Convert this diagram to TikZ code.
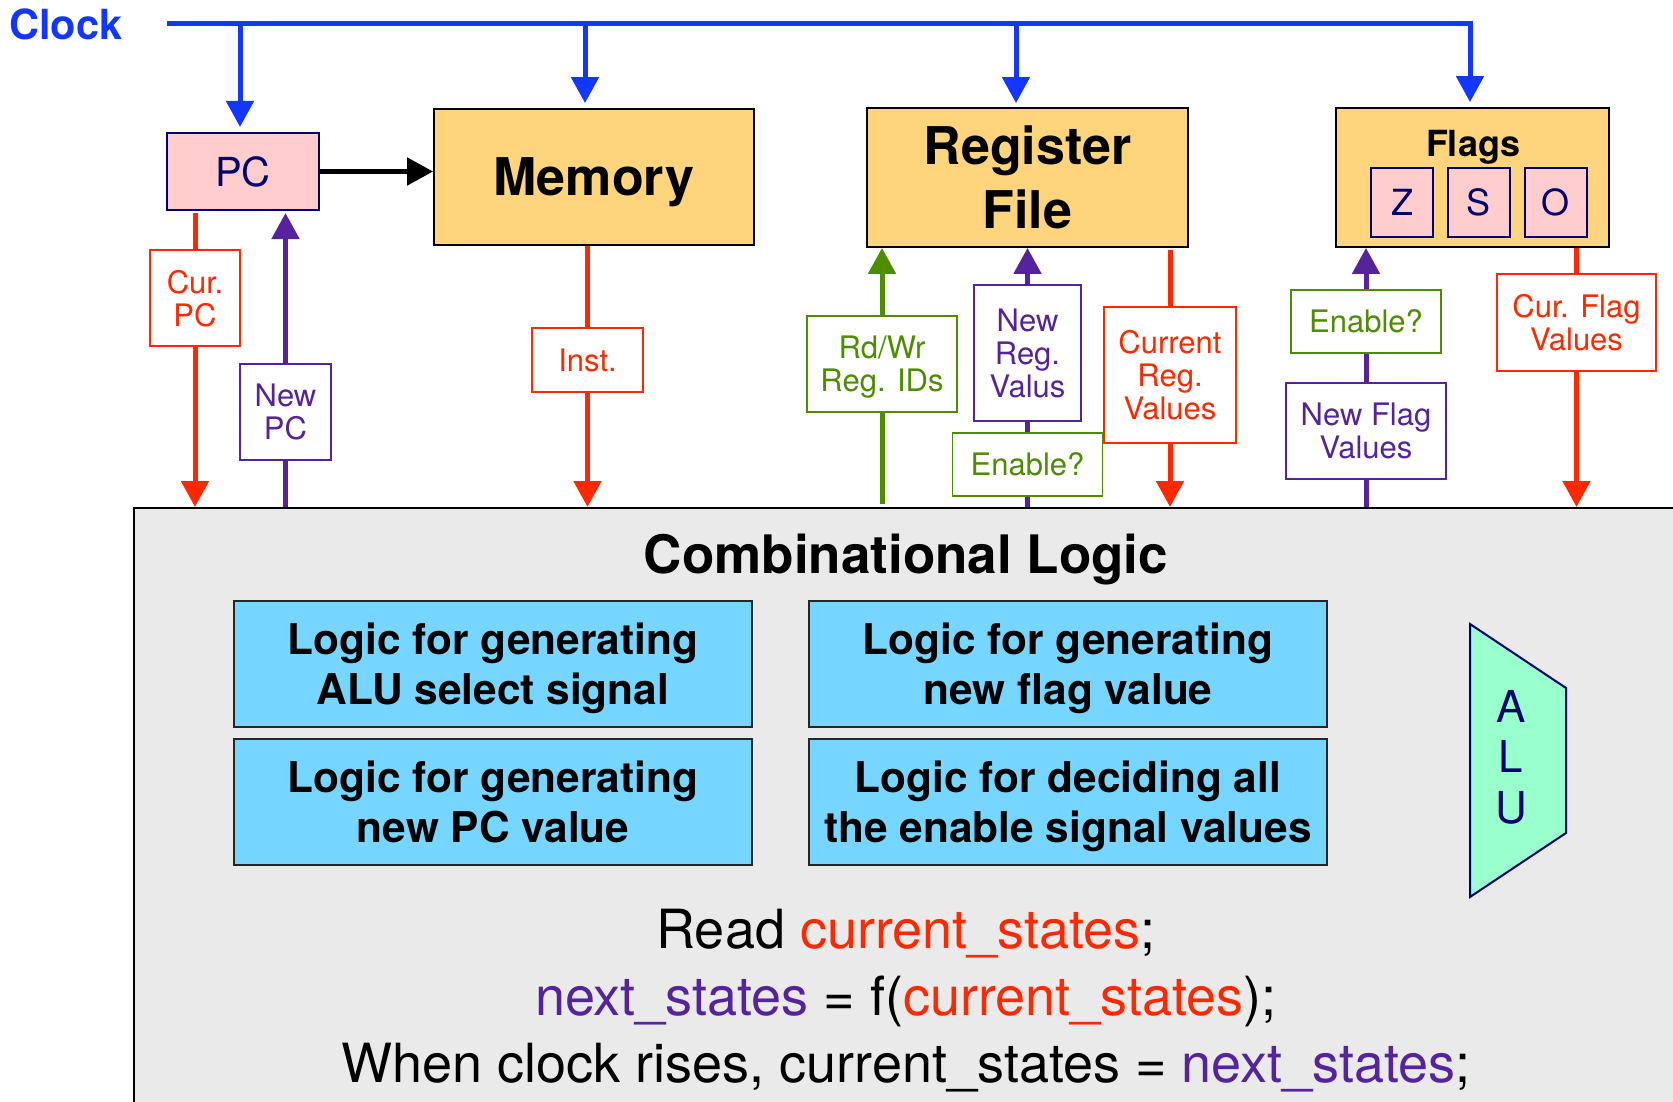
\documentclass[tikz,border=0pt]{standalone}
\usepackage{fontspec}
\setmainfont{TeX Gyre Heros}
\usepackage{tikz}
\usetikzlibrary{arrows.meta, positioning}
\definecolor{clkblue}{RGB}{20,55,255}
\definecolor{curred}{RGB}{255,40,0}
\definecolor{nextpurple}{RGB}{85,35,155}
\definecolor{enablegreen}{RGB}{78,140,0}
\definecolor{navy}{RGB}{0,0,110}
\definecolor{pcpink}{RGB}{255,205,205}
\definecolor{unitorange}{RGB}{254,212,124}
\definecolor{logicblue}{RGB}{118,214,255}
\definecolor{alumint}{RGB}{153,255,204}
\definecolor{combgray}{RGB}{234,234,234}
\newcommand{\pxfont}[2]{\fontsize{#1}{#2}\selectfont}

\begin{document}
\begin{tikzpicture}[x=1pt, y=-1pt,
    every node/.style={inner sep=0pt},
    statebox/.style={draw=navy, fill=pcpink, line width=2pt, text=navy},
    unitbox/.style={draw=black, fill=unitorange, line width=1.8pt, align=center,
                    text depth=0pt, font=\pxfont{52}{64}\bfseries},
    sigbox/.style={draw=#1, fill=white, text=#1, line width=1.6pt, align=center,
                   text depth=0pt, font=\pxfont{31}{33}},
    logicbox/.style={draw=black!85, fill=logicblue, line width=2pt, align=center,
                     minimum width=518pt, minimum height=126pt, text depth=0pt,
                     font=\pxfont{42.4}{50}\bfseries},
    wire/.style={draw=#1, line width=5pt},
    wirearrow/.style={wire=#1, -{Triangle[length=26pt,width=27pt]}}]
  \useasboundingbox (0,0) rectangle (1673,1102);
  \clip (0,0) rectangle (1673,1102);

  % clock
  \node[font=\pxfont{41.5}{41.5}\bfseries, text=clkblue, anchor=base west] (clocklbl) at (9,39.5) {Clock};
  \coordinate (bus) at (167,24);

  % state elements
  \node[statebox, minimum width=152pt, minimum height=77pt, font=\pxfont{40}{40}] (pc) at (243,171.5) {PC};
  \node[unitbox, minimum width=320pt, minimum height=136pt] (mem) at (594,177) {Memory};
  \node[unitbox, minimum width=321pt, minimum height=139pt] (regfile) at (1027.5,177.5) {Register\\File};
  \node[unitbox, minimum width=273pt, minimum height=139pt] (flags) at (1472.5,177.5) {};
  \node[font=\pxfont{36}{36}\bfseries, anchor=base] (flagslbl) at (1473,157) {Flags};
  \node[statebox, minimum width=62pt, minimum height=69pt, font=\pxfont{36}{36}] (zf) at (1402,202.5) {Z};
  \node[statebox, minimum width=62pt, minimum height=69pt, font=\pxfont{36}{36}, right=12.5pt of zf] (sf) {S};
  \node[statebox, minimum width=62pt, minimum height=69pt, font=\pxfont{36}{36}, right=13pt of sf] (of) {O};

  % combinational part
  \node[draw=black, fill=combgray, line width=2pt, minimum width=1600pt, minimum height=650pt,
        anchor=north west] (comb) at (133,507) {};
  \node[font=\pxfont{53}{53}\bfseries, anchor=base] (combtitle) at (906,573) {Combinational Logic};
  \node[logicbox] (alusel) at (493,664) {Logic for generating\\ALU select signal};
  \node[logicbox, right=55pt of alusel] (flaglogic) {Logic for generating\\new flag value};
  \node[logicbox, below=10pt of alusel] (pclogic) {Logic for generating\\new PC value};
  \node[logicbox, below=10pt of flaglogic] (enlogic) {Logic for deciding all\\the enable signal values};
  \draw[draw=navy, fill=alumint, line width=2pt] (1470,624) -- (1566,688) -- (1566,833) -- (1470,897) -- cycle;
  \node[text=navy, font=\pxfont{44}{50.5}, align=center] (alulbl) at (1511,757) {A\\L\\U};
  \node[font=\pxfont{54}{54}, anchor=base] (code1) at (906,948)
    {Read \textcolor{curred}{current\_states};};
  \node[font=\pxfont{54}{54}, anchor=base] (code2) at (906,1015)
    {\textcolor{nextpurple}{next\_states} = f(\textcolor{curred}{current\_states});};
  \node[font=\pxfont{54}{54}, anchor=base] (code3) at (906,1082)
    {When clock rises, current\_states = \textcolor{nextpurple}{next\_states};};

  % signal labels
  \node[sigbox=curred, minimum width=90pt, minimum height=96pt] (curpc) at (195,298) {Cur.\\PC};
  \node[sigbox=nextpurple, minimum width=91pt, minimum height=96pt] (newpc) at (285.5,412) {New\\PC};
  \node[sigbox=curred, minimum width=111pt, minimum height=64pt] (inst) at (587.5,360) {Inst.};
  \node[sigbox=enablegreen, minimum width=150pt, minimum height=96pt] (rdwr) at (882,364) {Rd/Wr\\Reg. IDs};
  \node[sigbox=nextpurple, minimum width=107pt, minimum height=136pt] (newreg) at (1027.5,353) {New\\Reg.\\Valus};
  \node[sigbox=enablegreen, minimum width=150pt, minimum height=63pt] (enreg) at (1027.5,464.5) {Enable?};
  \node[sigbox=curred, minimum width=132pt, minimum height=136pt] (curreg) at (1170,375) {Current\\Reg.\\Values};
  \node[sigbox=enablegreen, minimum width=150pt, minimum height=63pt] (enflag) at (1366,321.5) {Enable?};
  \node[sigbox=nextpurple, minimum width=160pt, minimum height=96pt] (newflag) at (1366,431) {New Flag\\Values};
  \node[sigbox=curred, minimum width=159pt, minimum height=97pt] (curflag) at (1576.5,322.5) {Cur. Flag\\Values};

  % clock lines
  \draw[wirearrow=clkblue, shorten >=5pt] (bus) -| ([xshift=-2.5pt]flags.north);
  \draw[wirearrow=clkblue, shorten >=5pt] ([xshift=-3pt]pc.north |- bus) -- ([xshift=-3pt]pc.north);
  \draw[wirearrow=clkblue, shorten >=5pt] ([xshift=-9pt]mem.north |- bus) -- ([xshift=-9pt]mem.north);
  \draw[wirearrow=clkblue, shorten >=4pt] ([xshift=-11.5pt]regfile.north |- bus) -- ([xshift=-11.5pt]regfile.north);

  % data lines
  \draw[wirearrow=black] (pc.east) -- (pc.east -| mem.west);
  \draw[wire=curred, shorten <=2pt] (pc.south -| curpc) -- (curpc.north);
  \draw[wirearrow=curred] (curpc.south) -- (curpc |- comb.north);
  \draw[wire=nextpurple] (newpc |- comb.north) -- (newpc.south);
  \draw[wirearrow=nextpurple, shorten >=2pt] (newpc.north) -- (newpc |- pc.south);
  \draw[wire=curred] (mem.south -| inst) -- (inst.north);
  \draw[wirearrow=curred] (inst.south) -- (inst |- comb.north);
  \draw[wire=enablegreen, shorten <=3pt] (rdwr |- comb.north) -- (rdwr.south);
  \draw[wirearrow=enablegreen] (rdwr.north) -- (rdwr |- regfile.south);
  \draw[wire=nextpurple] (enreg |- comb.north) -- (enreg.south);
  \draw[wire=nextpurple] (enreg.north) -- (newreg.south);
  \draw[wirearrow=nextpurple] (newreg.north) -- (newreg |- regfile.south);
  \draw[wire=curred, shorten <=2pt] (regfile.south -| curreg) -- (curreg.north);
  \draw[wirearrow=curred] (curreg.south) -- (curreg |- comb.north);
  \draw[wire=nextpurple] (newflag |- comb.north) -- (newflag.south);
  \draw[wire=nextpurple] (newflag.north) -- (enflag.south);
  \draw[wirearrow=nextpurple] (enflag.north) -- (enflag |- flags.south);
  \draw[wire=curred] (flags.south -| curflag) -- (curflag.north);
  \draw[wirearrow=curred] (curflag.south) -- (curflag |- comb.north);
\end{tikzpicture}
\end{document}
